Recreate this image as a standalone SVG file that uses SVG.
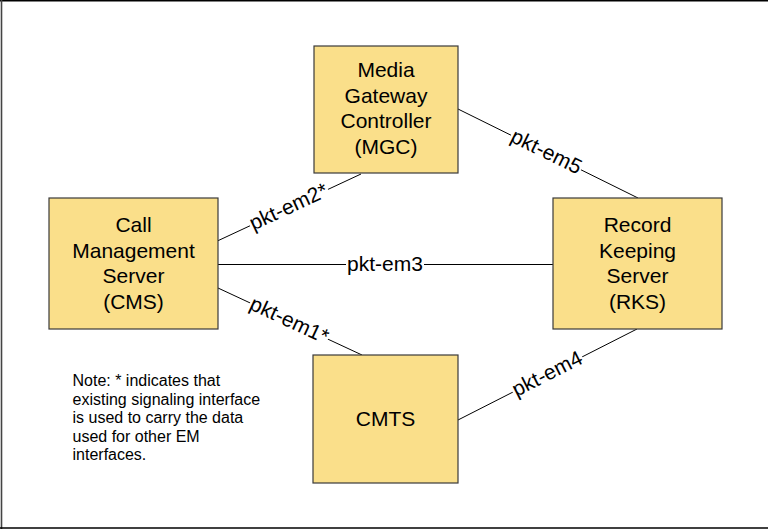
<svg xmlns="http://www.w3.org/2000/svg" width="768" height="529" viewBox="0 0 768 529">
<style>
.box{fill:#FADF8A;stroke:#3a3a3a;stroke-width:1.2}
.t{font-family:"Liberation Sans",Arial,sans-serif;font-size:21px;fill:#000;text-anchor:middle}
.n{font-family:"Liberation Sans",Arial,sans-serif;font-size:16px;fill:#000}
.c{stroke:#000;stroke-width:1;fill:none}
.bg{fill:#fff}
</style>
<rect x="0" y="0" width="768" height="529" fill="#fff"/>
<g id="frame">
<line x1="0" y1="0.75" x2="768" y2="0.75" stroke="#000" stroke-width="1.5"/>
<line x1="1.5" y1="0" x2="1.5" y2="529" stroke="#444" stroke-width="1.6"/>
<line x1="0" y1="528" x2="768" y2="528" stroke="#000" stroke-width="1.6"/>
</g>
<g id="connectors">
<line class="c" x1="218" y1="240.7" x2="361" y2="174"/>
<line class="c" x1="458" y1="109" x2="638" y2="198"/>
<line class="c" x1="218" y1="264.5" x2="553" y2="264.5"/>
<line class="c" x1="218" y1="288" x2="362" y2="355"/>
<line class="c" x1="458" y1="420" x2="637" y2="329"/>
<g transform="translate(289,207.6) rotate(-25)">
<rect class="bg" x="-43" y="-7" width="86" height="14"/>
<text class="t" x="0" y="6">pkt-em2*</text>
</g>
<g transform="translate(546,152.5) rotate(26.3)">
<rect class="bg" x="-39" y="-7" width="78" height="14"/>
<text class="t" x="0" y="6">pkt-em5</text>
</g>
<g transform="translate(385,264.5)">
<rect class="bg" x="-39" y="-7" width="78" height="14"/>
<text class="t" x="0" y="6">pkt-em3</text>
</g>
<g transform="translate(289,321) rotate(24.9)">
<rect class="bg" x="-43" y="-7" width="86" height="14"/>
<text class="t" x="0" y="6">pkt-em1*</text>
</g>
<g transform="translate(547.5,374.5) rotate(-26.9)">
<rect class="bg" x="-39" y="-7" width="78" height="14"/>
<text class="t" x="0" y="6">pkt-em4</text>
</g>
</g>
<g id="mgc">
<rect class="box" x="314" y="46" width="144" height="127"/>
<text class="t" x="386" y="77">Media</text>
<text class="t" x="386" y="102.5">Gateway</text>
<text class="t" x="386" y="128">Controller</text>
<text class="t" x="386" y="153.5">(MGC)</text>
</g>
<g id="cms">
<rect class="box" x="49" y="198" width="169" height="131"/>
<text class="t" x="133.5" y="232">Call</text>
<text class="t" x="133.5" y="257.5">Management</text>
<text class="t" x="133.5" y="283">Server</text>
<text class="t" x="133.5" y="308.5">(CMS)</text>
</g>
<g id="rks">
<rect class="box" x="553" y="198" width="169" height="131"/>
<text class="t" x="637.5" y="232">Record</text>
<text class="t" x="637.5" y="257.5">Keeping</text>
<text class="t" x="637.5" y="283">Server</text>
<text class="t" x="637.5" y="308.5">(RKS)</text>
</g>
<g id="cmts">
<rect class="box" x="313" y="355" width="145" height="128"/>
<text class="t" x="385.5" y="426">CMTS</text>
</g>
<g id="note">
<text class="n" x="72.5" y="386">Note: * indicates that</text>
<text class="n" x="72.5" y="404.5">existing signaling interface</text>
<text class="n" x="72.5" y="423">is used to carry the data</text>
<text class="n" x="72.5" y="441.5">used for other EM</text>
<text class="n" x="72.5" y="460">interfaces.</text>
</g>
</svg>
